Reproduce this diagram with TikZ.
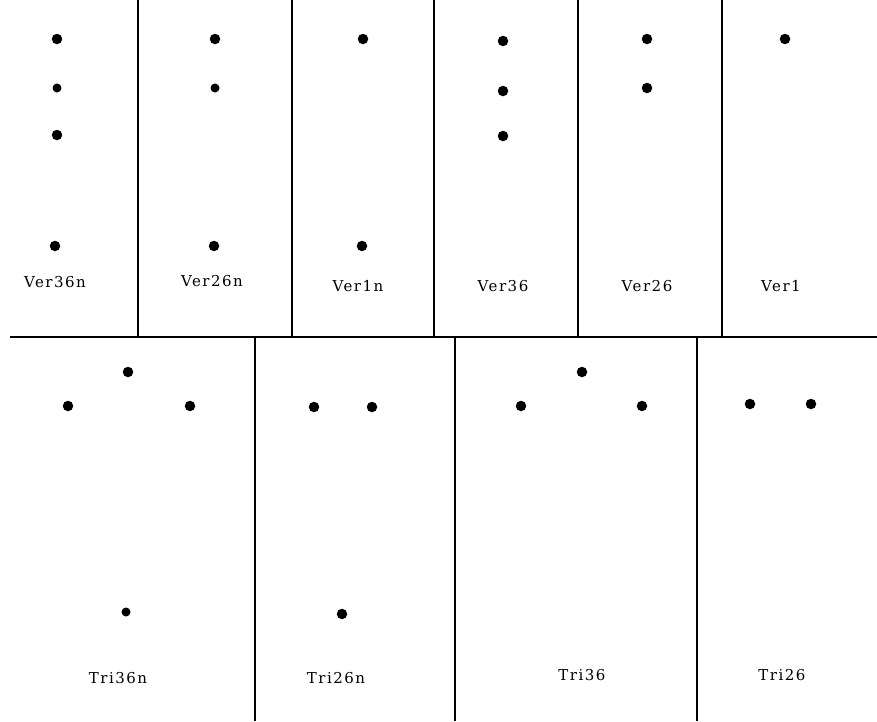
\documentclass[tikz,border=0pt]{standalone}
\usepackage{fontspec}
\setmainfont[LetterSpace=10]{DejaVu Serif}
\begin{document}
\begin{tikzpicture}[x=1pt,y=-1pt,
  dot/.style={circle,fill=black,inner sep=0pt,minimum size=10.5pt},
  sdot/.style={circle,fill=black,inner sep=0pt,minimum size=9pt},
  lbl/.style={font=\fontsize{15}{18}\selectfont,inner sep=0pt},
  rule/.style={line width=1.4pt,black}]
\useasboundingbox[fill=white] (0,0) rectangle (877,721);
% frame lines
\coordinate (hl) at (10,337);
\coordinate (hr) at (877,337);
\draw[rule] (hl) -- (hr);
\foreach \x/\n in {138/a,292/b,434/c,578/d,722/e}{
  \coordinate (t\n) at (\x,0); \coordinate (b\n) at (\x,337);
  \draw[rule] (t\n) -- (b\n);}
\foreach \x/\n in {255/f,455/g,697/h}{
  \coordinate (t\n) at (\x,337); \coordinate (b\n) at (\x,721);
  \draw[rule] (t\n) -- (b\n);}
% top row dots
\node[dot] (v36n1) at (57,39) {};
\node[sdot] (v36n2) at (57,88) {};
\node[dot] (v36n3) at (57,135) {};
\node[dot] (v36n4) at (55,246) {};
\node[dot] (v26n1) at (215,39) {};
\node[sdot] (v26n2) at (215,88) {};
\node[dot] (v26n3) at (214,246) {};
\node[dot] (v1n1) at (363,39) {};
\node[dot] (v1n2) at (362,246) {};
\node[dot] (v361) at (503,41) {};
\node[dot] (v362) at (503,91) {};
\node[dot] (v363) at (503,136) {};
\node[dot] (v261) at (647,39) {};
\node[dot] (v262) at (647,88) {};
\node[dot] (v11) at (785,39) {};
% bottom row dots
\node[dot] (t36n1) at (128,372) {};
\node[dot] (t36n2) at (68,406) {};
\node[dot] (t36n3) at (190,406) {};
\node[sdot] (t36n4) at (126,612) {};
\node[dot] (t26n1) at (314,407) {};
\node[dot] (t26n2) at (372,407) {};
\node[dot] (t26n3) at (342,614) {};
\node[dot] (t361) at (582,372) {};
\node[dot] (t362) at (521,406) {};
\node[dot] (t363) at (642,406) {};
\node[dot] (t261) at (750,404) {};
\node[dot] (t262) at (811,404) {};
% labels
\node[lbl] (lv36n) at (55,282) {Ver36n};
\node[lbl] (lv26n) at (212,281) {Ver26n};
\node[lbl] (lv1n) at (358,286) {Ver1n};
\node[lbl] (lv36) at (503,286) {Ver36};
\node[lbl] (lv26) at (647,286) {Ver26};
\node[lbl] (lv1) at (781,286) {Ver1};
\node[lbl] (lt36n) at (118,678) {Tri36n};
\node[lbl] (lt26n) at (336,678) {Tri26n};
\node[lbl] (lt36) at (582,675) {Tri36};
\node[lbl] (lt26) at (782,675) {Tri26};
\end{tikzpicture}
\end{document}
